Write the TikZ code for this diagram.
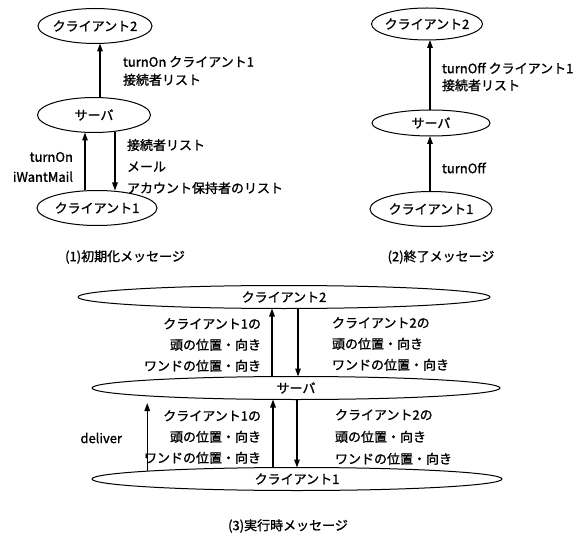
\documentclass[tikz,border=0pt]{standalone}
\usepackage{fontspec}
\setmainfont[FakeBold=1.2]{Noto Sans CJK JP}
\usetikzlibrary{arrows.meta,shapes.geometric}
\newcommand\myfs[1]{\fontsize{13}{#1}\selectfont}
\begin{document}
\begin{tikzpicture}[x=1pt,y=-1pt,
  ell/.style={draw,ellipse,line width=1pt,inner sep=0pt,outer sep=0pt,font=\myfs{15}},
  arr/.style={line width=1.3pt,-{Triangle[length=8pt,width=5.5pt]}},
  lbl/.style={inner sep=0pt,outer sep=0pt}]
\useasboundingbox (0,0) rectangle (580,537);
% ---------- panel 1 ----------
\node[ell,minimum width=114pt,minimum height=35pt] (c2a) at (95,26) {\makebox[0pt]{クライアント2}};
\node[ell,minimum width=113pt,minimum height=35pt] (sa) at (94,115) {\makebox[0pt]{サーバ}};
\node[ell,minimum width=120pt,minimum height=35pt] (c1a) at (97,208) {\makebox[0pt]{クライアント1}};
\draw[arr] ([xshift=6pt]sa.north) -- ([xshift=6pt]sa.north |- c2a.south);
\draw[arr] ([xshift=-12pt]c1a.north) -- ([xshift=-12pt]c1a.north |- sa.south);
\draw[arr] ([xshift=21pt]sa.south) -- ([xshift=21pt]sa.south |- c1a.north);
\node[lbl,anchor=west,align=left,font=\myfs{18}] (la1) at (123,71) {turnOn クライアント1\\接続者リスト};
\node[lbl,anchor=east,align=right,font=\myfs{20}] (la2) at (73,167) {turnOn\\iWantMail};
\node[lbl,anchor=west,align=left,font=\myfs{21.5}] (la3) at (127,166.5) {接続者リスト\\メール\\アカウント保持者のリスト};
\node[lbl,font=\myfs{15}] (capa) at (125,257) {(1)初期化メッセージ};
% ---------- panel 2 ----------
\node[ell,minimum width=111pt,minimum height=32pt] (c2b) at (427,24) {\makebox[0pt]{クライアント2}};
\node[ell,minimum width=118pt,minimum height=26pt] (sb) at (431,123) {\makebox[0pt]{サーバ}};
\node[ell,minimum width=122pt,minimum height=35pt] (c1b) at (431,209) {\makebox[0pt]{クライアント1}};
\draw[arr] ([xshift=-1pt]sb.north) -- ([xshift=-1pt]sb.north |- c2b.south);
\draw[arr] ([xshift=-1pt]c1b.north) -- ([xshift=-1pt]c1b.north |- sb.south);
\node[lbl,anchor=west,align=left,font=\myfs{17}] (lb1) at (442,77) {turnOff クライアント1\\接続者リスト};
\node[lbl,anchor=west,font=\myfs{15}] (lb2) at (442,168) {turnOff};
\node[lbl,font=\myfs{15}] (capb) at (441,257) {(2)終了メッセージ};
% ---------- panel 3 ----------
\node[ell,minimum width=412pt,minimum height=23pt] (c2c) at (284,297) {\makebox[0pt]{クライアント2}};
\node[ell,minimum width=408pt,minimum height=23pt] (sc) at (296,388) {\makebox[0pt]{サーバ}};
\node[ell,minimum width=410pt,minimum height=23pt] (c1c) at (297,479) {\makebox[0pt]{クライアント1}};
\draw[arr] ([xshift=-24pt]sc.north) -- ([xshift=-24pt]sc.north |- c2c.south);
\draw[arr] ([xshift=2pt]sc.north |- c2c.south) -- ([xshift=2pt]sc.north);
\draw[arr] ([xshift=-24pt]c1c.north) -- ([xshift=-24pt]c1c.north |- sc.south);
\draw[arr] ([xshift=1pt]sc.south) -- ([xshift=1pt]sc.south |- c1c.north);
\coordinate (dlv) at (136,403);
\draw[arr] (c1c.177.5) -- (c1c.177.5 |- dlv);
\node[lbl,anchor=east,align=right,font=\myfs{21}] (lc1) at (261,345) {クライアント1の\\頭の位置・向き\\ワンドの位置・向き};
\node[lbl,anchor=west,align=left,font=\myfs{21}] (lc2) at (332,344) {クライアント2の\\頭の位置・向き\\ワンドの位置・向き};
\node[lbl,anchor=east,align=right,font=\myfs{21}] (lc3) at (261,437) {クライアント1の\\頭の位置・向き\\ワンドの位置・向き};
\node[lbl,anchor=west,align=left,font=\myfs{22}] (lc4) at (335,437) {クライアント2の\\頭の位置・向き\\ワンドの位置・向き};
\node[lbl,anchor=east,font=\myfs{15}] (lc5) at (122,438) {deliver};
\node[lbl,font=\myfs{15}] (capc) at (288,526) {(3)実行時メッセージ};
\end{tikzpicture}
\end{document}
